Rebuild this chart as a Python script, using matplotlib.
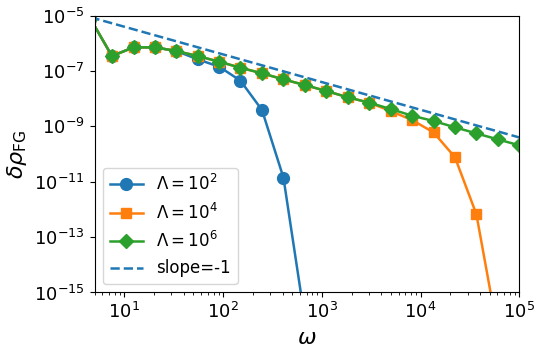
import numpy as np
import matplotlib
matplotlib.use("Agg")
import matplotlib.pyplot as plt

# omega grid (points spaced by a factor of ~sqrt(e))
omega = [4.54, 7.49, 12.4, 20.4, 33.6, 55.3, 91.2, 150, 248, 409, 674,
         1111, 1832, 3020, 4979, 8208, 13534, 22313, 36788, 60653, 100000]

rho_lam2 = [7.7e-6, 3.5e-7, 7.2e-7, 7.2e-7, 5.3e-7, 2.66e-7, 1.44e-7, 4.5e-8,
            3.9e-9, 1.4e-11, 1.05e-16]
rho_lam4 = [7.7e-6, 3.5e-7, 7.2e-7, 7.2e-7, 5.3e-7, 3.5e-7, 2.18e-7, 1.32e-7,
            8.3e-8, 5.0e-8, 3.13e-8, 1.9e-8, 1.13e-8, 7.2e-9, 3.6e-9, 1.7e-9,
            6.1e-10, 7.7e-11, 6.7e-13, 3.6e-17]
rho_lam6 = [7.7e-6, 3.5e-7, 7.2e-7, 7.2e-7, 5.3e-7, 3.5e-7, 2.18e-7, 1.32e-7,
            8.3e-8, 5.0e-8, 3.13e-8, 1.9e-8, 1.13e-8, 7.2e-9, 4.26e-9, 2.44e-9,
            1.57e-9, 9.3e-10, 5.6e-10, 3.4e-10, 2.08e-10]

slope_coeff = 4e-5

fig = plt.figure(figsize=(5.45, 3.53), dpi=100)
ax = fig.add_axes([0.1736, 0.1714, 0.7792, 0.7841])

w = np.array(omega)
ax.plot(w[:len(rho_lam2)], rho_lam2, '-o', color='C0', ms=8.5, lw=1.8, label=r'$\Lambda=10^2$')
ax.plot(w[:len(rho_lam4)], rho_lam4, '-s', color='C1', ms=7.5, lw=1.8, label=r'$\Lambda=10^4$')
ax.plot(w, rho_lam6, '-D', color='C2', ms=7.5, lw=1.8, label=r'$\Lambda=10^6$')
ax.plot(w, slope_coeff / w, '--', color='C0', lw=1.8, label='slope=-1')

ax.set_xscale('log')
ax.set_yscale('log')
ax.set_xlim(5, 1e5)
ax.set_ylim(1e-15, 1e-5)
ax.set_yticks([1e-15, 1e-13, 1e-11, 1e-9, 1e-7, 1e-5])
ax.yaxis.set_minor_locator(matplotlib.ticker.NullLocator())
ax.tick_params(labelsize=13)

ax.set_xlabel(r'$\omega$', fontsize=16)
ax.set_ylabel(r'$\delta\rho_{\mathrm{FG}}$', fontsize=16)
ax.legend(loc='lower left', fontsize=12)

fig.savefig('out.png', dpi=100)
